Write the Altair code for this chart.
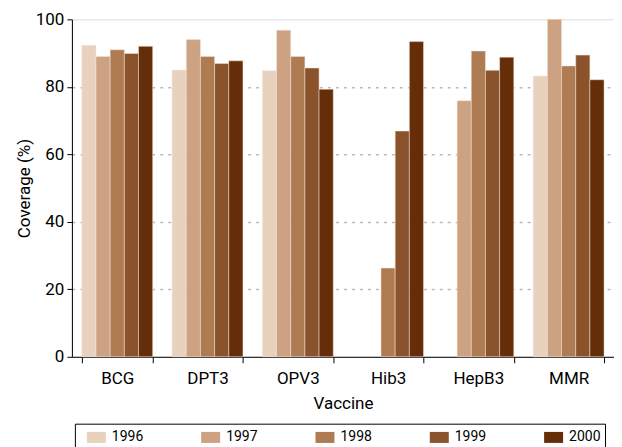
import altair as alt
import pandas as pd

vaccines = ["BCG", "DPT3", "OPV3", "Hib3", "HepB3", "MMR"]
years = ["1996", "1997", "1998", "1999", "2000"]
cov_1996 = [92.3, 85.0, 84.8, None, None, 83.2]
cov_1997 = [89.0, 94.0, 96.8, None, 75.9, 100.0]
cov_1998 = [91.0, 89.0, 89.0, 26.3, 90.6, 86.2]
cov_1999 = [89.9, 86.9, 85.6, 66.9, 84.9, 89.4]
cov_2000 = [92.0, 87.7, 79.3, 93.4, 88.8, 82.1]
colors = ["#e8d1bd", "#cda282", "#ae7b53", "#8b532c", "#652d08"]

series = [cov_1996, cov_1997, cov_1998, cov_1999, cov_2000]
rows = []
for y, vals in zip(years, series):
    for v, c in zip(vaccines, vals):
        if c is not None:
            rows.append({"Vaccine": v, "Year": y, "Coverage": c})
df = pd.DataFrame(rows)

FONT = "Roboto"

chart = alt.Chart(df).mark_bar(stroke="#f3e6da", strokeWidth=0.5).encode(
    x=alt.X("Vaccine:N", sort=vaccines,
            scale=alt.Scale(paddingInner=0.215, paddingOuter=0.11),
            axis=alt.Axis(title="Vaccine", labelAngle=0, tickBand="extent",
                          domainColor="black", tickColor="black", tickSize=6,
                          labelFontSize=17, titleFontSize=17, labelColor="black",
                          titleColor="black", titleFontWeight="normal",
                          labelPadding=8, titlePadding=9, grid=False)),
    xOffset=alt.XOffset("Year:N", sort=years, scale=alt.Scale(paddingInner=0, paddingOuter=0)),
    y=alt.Y("Coverage:Q", scale=alt.Scale(domain=[0, 100], nice=False),
            axis=alt.Axis(title="Coverage (%)", values=[0, 20, 40, 60, 80, 100],
                          domainColor="black", tickColor="black", tickSize=5,
                          labelFontSize=17, titleFontSize=17, labelColor="black",
                          titleColor="black", titleFontWeight="normal",
                          labelPadding=3, titlePadding=2,
                          grid=True,
                          gridColor=alt.condition("datum.value == 0 || datum.value == 100",
                                                  alt.value("transparent"), alt.value("#bbbbbb")),
                          gridDash=[3, 5], gridWidth=1.5)),
    color=alt.Color("Year:N", sort=years,
                    scale=alt.Scale(domain=years, range=colors),
                    legend=alt.Legend(title=None, orient="none", legendX=3, legendY=405,
                                      direction="horizontal", columns=5,
                                      symbolType="M-1,-0.58L1,-0.58L1,0.58L-1,0.58Z",
                                      symbolSize=361, symbolStrokeWidth=0,
                                      symbolOffset=8,
                                      labelFontSize=14, labelColor="black",
                                      labelOffset=6, columnPadding=49.5,
                                      strokeColor="black", padding=4,
                                      fillColor="white")),
).properties(
    width=543, height=338,
    padding={"left": 64, "top": 11, "right": 0, "bottom": 100},
    autosize="none",
).configure_view(
    stroke="#333", strokeWidth=1
).configure(
    font=FONT
)

chart.save("out.html", embed_options={"renderer": "svg", "actions": False})
